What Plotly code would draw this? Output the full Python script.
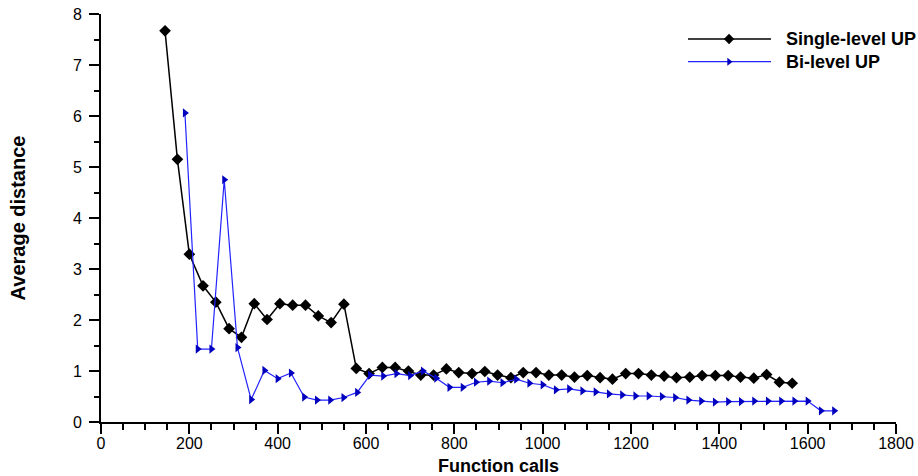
import plotly.graph_objects as go

# Single-level UP
single_x = [145, 173, 200, 231, 260, 290, 318, 347, 376, 405,
            434, 463, 492, 521, 550, 578, 607, 637, 666, 696,
            724, 753, 782, 810, 840, 869, 898, 928, 956, 985,
            1014, 1043, 1072, 1101, 1130, 1158, 1188, 1217, 1246, 1275,
            1303, 1333, 1361, 1391, 1420, 1448, 1478, 1507, 1536, 1565]
single_y = [7.67, 5.15, 3.29, 2.67, 2.35, 1.83, 1.66, 2.32, 2.01, 2.32,
            2.29, 2.29, 2.08, 1.95, 2.31, 1.05, 0.95, 1.07, 1.07, 1.00,
            0.92, 0.92, 1.04, 0.97, 0.95, 0.99, 0.92, 0.87, 0.97, 0.97,
            0.92, 0.92, 0.88, 0.91, 0.87, 0.84, 0.95, 0.95, 0.92, 0.90,
            0.87, 0.88, 0.91, 0.91, 0.91, 0.88, 0.86, 0.93, 0.78, 0.76]

# Bi-level UP
bi_x = [190, 219, 250, 279, 309, 340, 370, 400, 430, 460,
        489, 519, 549, 580, 609, 639, 669, 700, 729, 759,
        789, 819, 849, 879, 909, 940, 970, 1000, 1030, 1060,
        1090, 1120, 1150, 1180, 1210, 1240, 1270, 1300, 1330, 1359,
        1390, 1420, 1449, 1479, 1510, 1540, 1570, 1600, 1630, 1660]
bi_y = [6.06, 1.43, 1.43, 4.75, 1.46, 0.44, 1.01, 0.85, 0.96, 0.49,
        0.43, 0.43, 0.48, 0.58, 0.92, 0.90, 0.95, 0.91, 1.00, 0.86,
        0.68, 0.68, 0.78, 0.80, 0.77, 0.84, 0.76, 0.73, 0.63, 0.65,
        0.61, 0.59, 0.55, 0.53, 0.51, 0.51, 0.50, 0.48, 0.43, 0.41,
        0.39, 0.40, 0.40, 0.41, 0.41, 0.41, 0.41, 0.41, 0.22, 0.22]

series_names = ["Single-level UP", "Bi-level UP"]
x_ticks = [0, 200, 400, 600, 800, 1000, 1200, 1400, 1600, 1800]
y_ticks = [0, 1, 2, 3, 4, 5, 6, 7, 8]

FONT = "Arial, Liberation Sans, sans-serif"
BLACK = "#000000"
BLUE_LINE = "rgb(35,35,255)"
BLUE_MARK = "rgb(0,0,190)"

fig = go.Figure()
fig.add_trace(go.Scatter(
    x=single_x, y=single_y, mode="lines+markers", name=series_names[0],
    line=dict(color=BLACK, width=1.5),
    marker=dict(symbol="diamond", size=9, color=BLACK),
    showlegend=False, cliponaxis=False))
fig.add_trace(go.Scatter(
    x=bi_x, y=bi_y, mode="lines+markers", name=series_names[1],
    line=dict(color=BLUE_LINE, width=1.2),
    marker=dict(symbol="triangle-right", size=8, color=BLUE_MARK),
    showlegend=False, cliponaxis=False))

# custom legend (overlay axes spanning 0..1 of the plot area)
leg_x0, leg_x1, leg_xm, leg_tx = 0.7384, 0.8428, 0.790, 0.8590
leg_rows = [0.9387, 0.8831]
styles = [(BLACK, 1.5, "diamond", 8, BLACK), (BLUE_LINE, 1.2, "triangle-right", 7, BLUE_MARK)]
for name, yy, (lc, lw, sym, ms, mc) in zip(series_names, leg_rows, styles):
    fig.add_trace(go.Scatter(
        x=[leg_x0, leg_x1], y=[yy, yy], mode="lines", line=dict(color=lc, width=lw),
        xaxis="x2", yaxis="y2", showlegend=False, hoverinfo="skip"))
    fig.add_trace(go.Scatter(
        x=[leg_xm], y=[yy], mode="markers", marker=dict(symbol=sym, size=ms, color=mc),
        xaxis="x2", yaxis="y2", showlegend=False, hoverinfo="skip", cliponaxis=False))
    fig.add_annotation(x=leg_tx, y=yy, xref="paper", yref="paper", text="<b>" + name + "</b>",
                       showarrow=False, xanchor="left", yanchor="middle",
                       font=dict(family=FONT, size=18, color=BLACK))

axis_common = dict(
    showgrid=False, zeroline=False, showline=True, linecolor=BLACK, linewidth=2,
    ticks="outside", ticklen=10, tickwidth=2, tickcolor=BLACK,
    tickfont=dict(family=FONT, size=16, color=BLACK),
)
fig.update_layout(
    width=918, height=476,
    margin=dict(l=101, r=22, t=14, b=54, autoexpand=False),
    paper_bgcolor="white", plot_bgcolor="white",
    xaxis=dict(range=[0, 1800], tickmode="array", tickvals=x_ticks,
               minor=dict(dtick=50, tick0=0, ticks="outside", ticklen=6, tickwidth=1.5, tickcolor=BLACK),
               title=dict(text="<b>Function calls</b>", font=dict(family=FONT, size=18, color=BLACK), standoff=10),
               ticklabelstandoff=-4,
               **axis_common),
    yaxis=dict(range=[0, 8], tickmode="array", tickvals=y_ticks,
               minor=dict(dtick=0.5, tick0=0, ticks="outside", ticklen=5, tickwidth=1.5, tickcolor=BLACK),
               title=dict(text="<b>Average distance</b>", font=dict(family=FONT, size=20, color=BLACK), standoff=42),
               ticklabelstandoff=4,
               **axis_common),
    xaxis2=dict(range=[0, 1], overlaying="x", visible=False, fixedrange=True),
    yaxis2=dict(range=[0, 1], overlaying="y", visible=False, fixedrange=True),
    showlegend=False,
)

fig.write_html("out.html")
